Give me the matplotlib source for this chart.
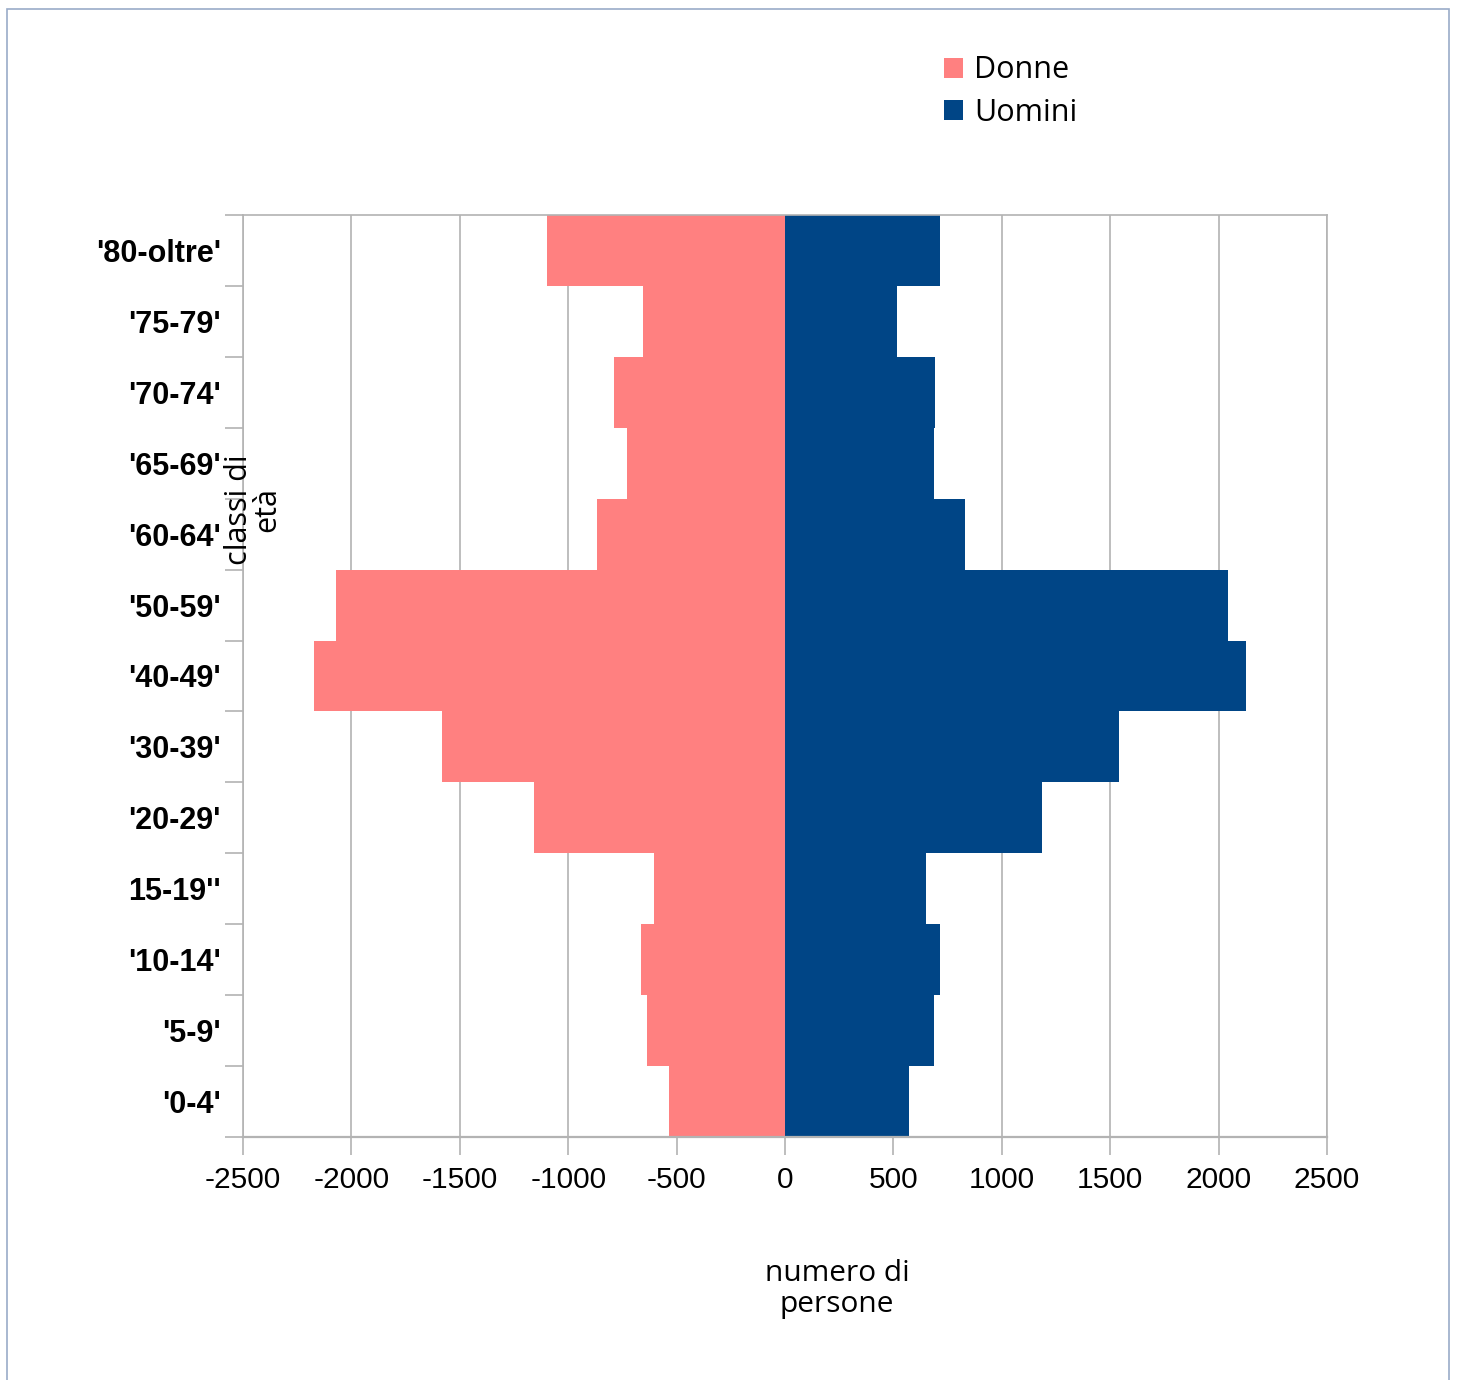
import matplotlib
matplotlib.use("Agg")
import matplotlib.pyplot as plt
from matplotlib.patches import Rectangle, Patch
import numpy as np

categories = ["'0-4'", "'5-9'", "'10-14'", "15-19''", "'20-29'", "'30-39'", "'40-49'",
              "'50-59'", "'60-64'", "'65-69'", "'70-74'", "'75-79'", "'80-oltre'"]
donne = [-535, -636, -664, -604, -1158, -1582, -2172, -2071, -867, -729, -789, -655, -1100]
uomini = [572, 687, 715, 650, 1185, 1541, 2126, 2043, 830, 687, 692, 517, 715]
xticks = [-2500, -2000, -1500, -1000, -500, 0, 500, 1000, 1500, 2000, 2500]
xticklabels = ["-2500", "-2000", "-1500", "-1000", "-500", "0", "500", "1000", "1500", "2000", "2500"]

W, H = 1457, 1380
fig = plt.figure(figsize=(W / 100, H / 100), dpi=100)

# outer border
fig.patches.append(Rectangle((7 / W, -0.01), (1449 - 7) / W, 1 - 9 / H + 0.01,
                             transform=fig.transFigure, fill=False,
                             edgecolor="#9aabc8", linewidth=1.2))

ax = fig.add_axes([243 / W, (H - 1137) / H, (1327 - 243) / W, (1137 - 215) / H])
y = np.arange(len(categories))
ax.barh(y, donne, height=1.0, color="#ff8080", label="Donne", zorder=2)
ax.barh(y, uomini, height=1.0, color="#004586", label="Uomini", zorder=2)

ax.set_xlim(-2500, 2500)
ax.set_ylim(-0.5, len(categories) - 0.5)
ax.set_xticks(xticks)
ax.set_xticklabels(xticklabels, fontfamily="Liberation Sans", fontsize=21.5)
ax.set_yticks(y)
ax.set_yticklabels(categories, fontfamily="Liberation Sans", fontsize=22, fontweight="bold")
ax.set_yticks(np.arange(len(categories) + 1) - 0.5, minor=True)
ax.tick_params(axis="y", which="major", length=0, pad=16)
ax.tick_params(axis="y", which="minor", length=13, color="#b3b3b3", width=1.2)
ax.tick_params(axis="x", which="major", length=13, color="#b3b3b3", width=1.2, pad=8)
ax.grid(axis="x", color="#b3b3b3", linewidth=1.2, zorder=0)
ax.set_axisbelow(True)
for s in ["left", "bottom", "top", "right"]:
    ax.spines[s].set_color("#b3b3b3")
    ax.spines[s].set_linewidth(1.2)
ax.spines["bottom"].set_linewidth(1.6)

fig.text(253 / W, 1 - 510 / H, "classi di\netà", rotation=90, ha="center", va="center",
         multialignment="center", fontfamily="Open Sans", fontsize=22, linespacing=0.95)
fig.text(837 / W, 1 - 1289 / H, "numero di\npersone", ha="center", va="center",
         multialignment="center", fontfamily="Open Sans", fontsize=21.5, linespacing=1.1)

handles = [Patch(facecolor="#ff8080", label="Donne"), Patch(facecolor="#004586", label="Uomini")]
fig.legend(handles=handles, loc="upper left", bbox_to_anchor=(923 / W, 1 - 34 / H),
           frameon=False, prop={"family": "Open Sans", "size": 22},
           handlelength=0.62, handleheight=0.62, handletextpad=0.35, labelspacing=0.4,
           borderpad=0.2)

fig.savefig("out.png", dpi=100)
